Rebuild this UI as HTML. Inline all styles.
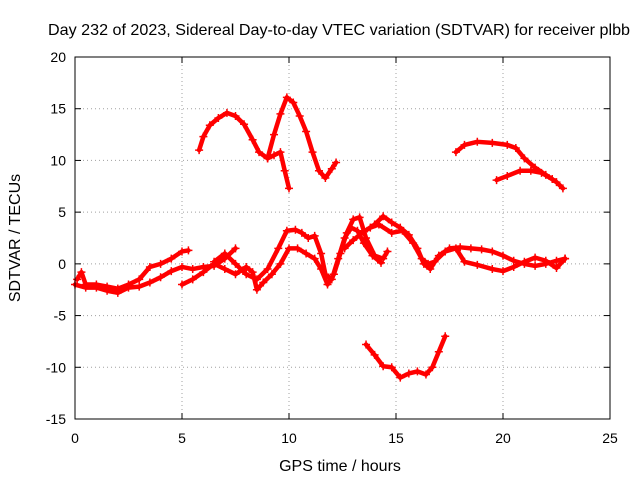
<!DOCTYPE html>
<html><head><meta charset="utf-8"><style>
body{margin:0;background:#fff}
svg{display:block;font-family:"Liberation Sans",sans-serif}
</style></head><body>
<svg id="chart" width="640" height="480" viewBox="0 0 640 480">
<text x="339" y="35" font-size="16" text-anchor="middle" textLength="582" lengthAdjust="spacingAndGlyphs">Day 232 of 2023, Sidereal Day-to-day VTEC variation (SDTVAR) for receiver plbb</text>
<text x="340" y="471" font-size="16" text-anchor="middle">GPS time / hours</text>
<text x="20" y="238" font-size="16" text-anchor="middle" transform="rotate(-90 20 238)">SDTVAR / TECUs</text>
<g id="grid"></g>
<g id="ticks"></g>
<g id="series"></g>
<rect x="75" y="57" width="535" height="362" fill="none" stroke="#000" stroke-width="1"/>
</svg>
<script>
const xTicks=[0,5,10,15,20,25];
const yTicks=[-15,-10,-5,0,5,10,15,20];
const trackA=[[5.8,11],[6.0,12.3],[6.3,13.4],[6.7,14.1],[7.1,14.6],[7.5,14.3],[7.9,13.5],[8.3,12],[8.6,10.8],[9.0,10.2],[9.3,10.5],[9.6,10.8],[9.8,9],[10.0,7.3]];
const trackB=[[9.0,10.2],[9.3,12.5],[9.6,14.5],[9.9,16.1],[10.2,15.6],[10.5,14.3],[10.8,12.8],[11.1,10.8],[11.4,9],[11.7,8.3],[12.0,9.2],[12.2,9.8]];
const trackC=[[17.8,10.8],[18.2,11.5],[18.8,11.8],[19.5,11.7],[20.2,11.5],[20.6,11.2],[21.0,10.2],[21.5,9.3],[22.0,8.6],[22.5,7.9],[22.8,7.3]];
const trackD=[[19.7,8.1],[20.2,8.5],[20.8,9],[21.3,9],[21.8,8.8],[22.3,8.2]];
const trackE=[[13.6,-7.8],[14.0,-8.8],[14.4,-9.9],[14.8,-10],[15.2,-11],[15.6,-10.6],[16.0,-10.4],[16.4,-10.7],[16.7,-10],[17.0,-8.5],[17.3,-7]];
const trackF=[[0,-2],[0.5,-2.3],[1.0,-2.3],[1.5,-2.6],[2.0,-2.8],[2.5,-2.3],[3.0,-2.2],[3.5,-1.8],[4.0,-1.3],[4.5,-0.7],[5.0,-0.3],[5.5,-0.5],[6.0,-0.3],[6.5,-0.2],[7.0,0.5],[7.5,1.5]];
const trackG=[[0.1,-1.5],[0.3,-0.8],[0.5,-2],[1.0,-2],[1.5,-2.2],[2.0,-2.4],[2.5,-2],[3.0,-1.5],[3.5,-0.3],[4.0,0],[4.5,0.5],[5.0,1.2],[5.3,1.3]];
const trackH=[[5.0,-2],[5.5,-1.5],[6.0,-0.8],[6.5,0],[7.0,-0.5],[7.5,-1],[8.0,-0.3],[8.3,-0.8],[8.5,-2.5],[8.8,-1.8],[9.2,-1],[9.6,0],[10.0,1.5],[10.4,1.5],[10.8,1],[11.2,0.5],[11.5,-0.5],[11.8,-2],[12.1,-1],[12.4,1],[12.7,3],[13.0,4.3],[13.3,4.5],[13.6,2.5],[14.0,0.8],[14.4,0.5],[14.6,1.2]];
const trackI=[[6.5,0.2],[7.0,1],[7.5,0],[8.0,-1],[8.5,-1.5],[9.0,-0.5],[9.5,1.5],[9.9,3.2],[10.3,3.3],[10.6,3],[10.9,2.5],[11.2,2.7],[11.5,1],[11.7,-1],[12.0,-1.5],[12.3,0.5],[12.6,2.5],[12.9,3.5],[13.2,3.2],[13.5,2],[13.9,0.8],[14.3,0.1]];
const trackJ=[[12.6,1.5],[13.0,2.3],[13.5,3.1],[14.0,3.8],[14.4,4.6],[14.8,4],[15.2,3.5],[15.6,2.8],[16.0,1.5],[16.3,0],[16.6,-0.5],[17.0,0.8],[17.5,1.5],[18.0,1.6],[18.5,1.5],[19.0,1.4],[19.5,1.2],[20.0,0.8],[20.5,0.3],[21.0,0],[21.5,-0.2],[22.0,0],[22.5,0.3],[22.9,0.5]];
const trackK=[[13.8,3.5],[14.2,3.8],[14.8,3],[15.3,3.2],[15.8,2],[16.2,0.5],[16.5,0],[16.8,0.2],[17.3,1.2],[17.8,1.5],[18.2,0.2],[18.8,-0.1],[19.5,-0.5],[20.0,-0.7],[20.5,-0.3],[21.0,0.2],[21.5,0.6],[22.0,0.3],[22.5,-0.4],[22.9,0.5]];
const tracks=[trackA,trackB,trackC,trackD,trackE,trackF,trackG,trackH,trackI,trackJ,trackK];

const X0=75,X1=610,Y0=419,Y1=57;
const sx=v=>X0+(v-0)/(25-0)*(X1-X0);
const sy=v=>Y0-(v-(-15))/(20-(-15))*(Y0-Y1);
const NS="http://www.w3.org/2000/svg";
const grid=document.getElementById('grid'),ticks=document.getElementById('ticks'),ser=document.getElementById('series');
function mk(tag,attrs,parent){const e=document.createElementNS(NS,tag);for(const k in attrs)e.setAttribute(k,attrs[k]);parent.appendChild(e);return e;}
xTicks.forEach(t=>{const x=sx(t);
 if(t>0&&t<25){const g=mk('line',{x1:x,x2:x,y1:Y1,y2:Y0,stroke:'#a0a0a0','stroke-dasharray':'1,3'},grid);
 
 }
 mk('line',{x1:x,x2:x,y1:Y0,y2:Y0-6,stroke:'#000'},ticks);mk('line',{x1:x,x2:x,y1:Y1,y2:Y1+6,stroke:'#000'},ticks);
 const l=mk('text',{x:x,y:443,'font-size':14,'text-anchor':'middle'},ticks);l.textContent=t;
 
 });
yTicks.forEach(t=>{const y=sy(t);
 if(t>-15&&t<20){const g=mk('line',{x1:X0,x2:X1,y1:y,y2:y,stroke:'#a0a0a0','stroke-dasharray':'1,3'},grid);
 
 }
 mk('line',{x1:X0,x2:X0+6,y1:y,y2:y,stroke:'#000'},ticks);mk('line',{x1:X1,x2:X1-6,y1:y,y2:y,stroke:'#000'},ticks);
 const l=mk('text',{x:X0-9,y:y+5,'font-size':14,'text-anchor':'end'},ticks);l.textContent=t;
 
 });
tracks.forEach((tr,i)=>{
 const p=mk('polyline',{points:tr.map(d=>sx(d[0])+','+sy(d[1])).join(' '),fill:'none',stroke:'#ff0000','stroke-width':4.5,'stroke-linejoin':'round','stroke-linecap':'round'},ser);
 
 
 tr.forEach(d=>{const x=sx(d[0]),y=sy(d[1]);
  const m=mk('path',{d:`M${x-4},${y}H${x+4}M${x},${y-4}V${y+4}`,stroke:'#ff0000','stroke-width':1.5},ser);
  
  });
});
</script>
</body></html>
